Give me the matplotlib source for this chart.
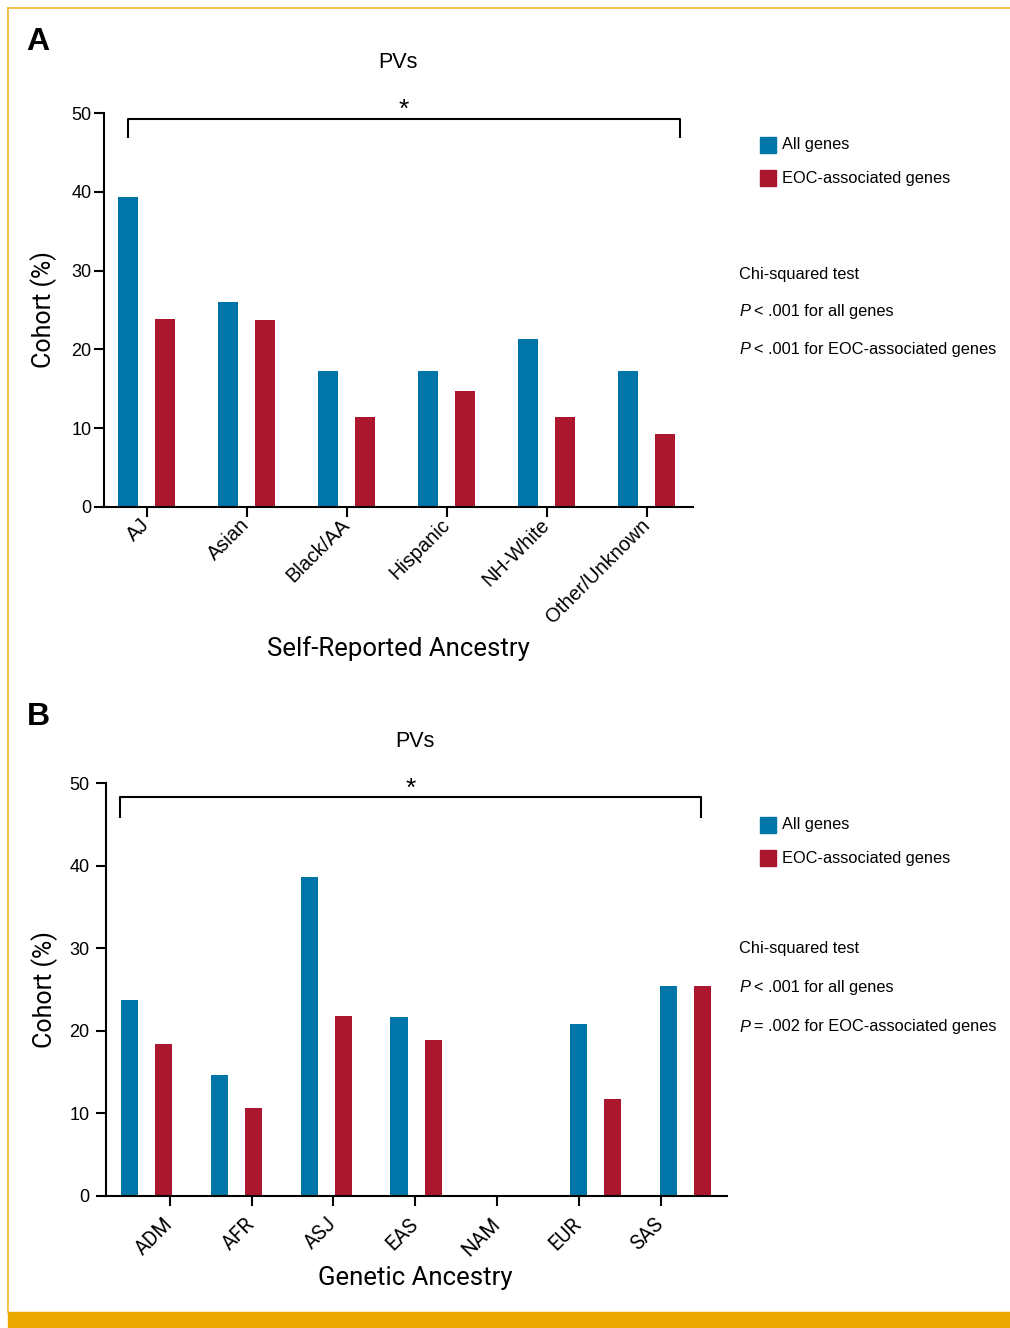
import numpy as np
import matplotlib
matplotlib.use("Agg")
import matplotlib.pyplot as plt
import matplotlib.transforms as mtransforms
from matplotlib.patches import Rectangle

# --- data ---
self_reported = ["AJ", "Asian", "Black/AA", "Hispanic", "NH-White", "Other/Unknown"]
sr_all_genes = [39.4, 26.0, 17.2, 17.2, 21.3, 17.2]
sr_eoc_genes = [23.9, 23.7, 11.4, 14.7, 11.4, 9.3]

genetic = ["ADM", "AFR", "ASJ", "EAS", "NAM", "EUR", "SAS"]
ga_all_genes = [23.8, 14.6, 38.6, 21.7, 0.0, 20.8, 25.5]
ga_eoc_genes = [18.4, 10.7, 21.8, 18.9, 0.0, 11.7, 25.5]

stats_a = ["< .001 for all genes", "< .001 for EOC-associated genes"]
stats_b = ["< .001 for all genes", "= .002 for EOC-associated genes"]

BLUE = "#0076A8"
RED = "#AB172F"
GOLD = "#EBA900"
SANS = ["Liberation Sans", "DejaVu Sans"]
NARROW = ["Roboto", "DejaVu Sans"]

W, H = 1010, 1328
plt.rcParams["font.family"] = SANS


def fx(px):
    return px / W


def fy(py):
    return 1 - py / H


fig = plt.figure(figsize=(W / 100, H / 100), dpi=100)

# journal frame
fig.add_artist(plt.Line2D([fx(8), fx(8)], [fy(8), fy(1312)], color="#F2B632", lw=1.2))
fig.add_artist(plt.Line2D([fx(8), 1], [fy(8), fy(8)], color="#F2B632", lw=1.2))
fig.add_artist(Rectangle((fx(8), 0), 1 - fx(8), 16 / H, color=GOLD, transform=fig.transFigure))


def style_axis(ax, ylabel_x):
    for s in ["top", "right"]:
        ax.spines[s].set_visible(False)
    for s in ["left", "bottom"]:
        ax.spines[s].set_linewidth(1.5)
    ax.set_ylim(0, 50)
    ax.set_yticks([0, 10, 20, 30, 40, 50])
    ax.tick_params(axis="both", direction="out", length=7, width=1.5)
    ax.tick_params(axis="y", labelsize=13)
    ax.set_ylabel("Cohort (%)", family=NARROW, fontsize=18)
    ax.yaxis.set_label_coords(ylabel_x, 0.5)


def shift_xlabels(ax, dx_px):
    off = mtransforms.ScaledTranslation(dx_px / 100, 0, fig.dpi_scale_trans)
    for lab in ax.get_xticklabels():
        lab.set_transform(lab.get_transform() + off)


def bracket(ax, x0, x1, ytop, ybot, star_x, star_y):
    ax.plot([x0, x0, x1, x1], [ybot, ytop, ytop, ybot], color="black", lw=1.5,
            clip_on=False, solid_capstyle="butt")
    ax.text(star_x, star_y, "*", ha="center", va="center", fontsize=19, clip_on=False)


def side_text(y_leg, y_chi, gap, stats):
    for yc, col, lab in zip([y_leg, y_leg + 33], [BLUE, RED], ["All genes", "EOC-associated genes"]):
        fig.add_artist(Rectangle((fx(760), fy(yc + 8)), 16 / W, 16 / H, color=col,
                                 transform=fig.transFigure))
        fig.text(fx(782), fy(yc), lab, fontsize=11.8, va="center")
    fig.text(fx(739), fy(y_chi), "Chi-squared test", fontsize=11.8, va="center")
    for i, s in enumerate(stats):
        yy = fy(y_chi + gap * (i + 1))
        fig.text(fx(739), yy, "P", fontsize=11.8, va="center", style="italic")
        fig.text(fx(753.5), yy, s, fontsize=11.8, va="center")


# ---------------- panel A ----------------
axA = fig.add_axes([fx(104), fy(506.7), (693 - 104) / W, (506.7 - 113.3) / H])
xa = np.arange(len(self_reported))
axA.bar(xa - 0.185, sr_all_genes, width=0.2, color=BLUE, linewidth=0)
axA.bar(xa + 0.185, sr_eoc_genes, width=0.2, color=RED, linewidth=0)
axA.set_xlim(-0.427, 5.46)
style_axis(axA, -0.079)
axA.set_xticks(xa)
axA.set_xticklabels(self_reported, rotation=45, ha="right", va="center",
                    rotation_mode="anchor", fontsize=14.3)
shift_xlabels(axA, 3)
axA.tick_params(axis="y", pad=2)
axA.tick_params(axis="x", pad=4)
axA.set_xlabel("Self-Reported Ancestry", family=NARROW, fontsize=18.5, va="center")
axA.xaxis.set_label_coords(0.499, -0.36)
bracket(axA, -0.184, 5.33, 49.3, 46.8, 2.57, 50.5)
fig.text(fx(398), fy(63), "PVs", fontsize=15.5, ha="center", va="center")
fig.text(fx(38), fy(42), "A", fontsize=23, weight="bold", ha="center", va="center")
side_text(145, 274, 37.5, stats_a)

# ---------------- panel B ----------------
axB = fig.add_axes([fx(106), fy(1196), (727 - 106) / W, (1196 - 783.3) / H])
xb = np.arange(len(genetic))
axB.bar(xb - 0.19, ga_all_genes, width=0.19, color=BLUE, linewidth=0)
axB.bar(xb + 0.19, ga_eoc_genes, width=0.19, color=RED, linewidth=0)
axB.set_xlim(-0.451, 6.46)
style_axis(axB, -0.077)
# tick marks in the original sit slightly off the bar groups
axB.set_xticks(0.26 + 0.91 * xb)
axB.set_xticklabels(genetic, rotation=45, ha="right", va="center",
                    rotation_mode="anchor", fontsize=14.5, family=NARROW)
shift_xlabels(axB, 7)
axB.tick_params(axis="y", pad=5)
axB.tick_params(axis="x", pad=11)
axB.set_xlabel("Genetic Ancestry", family=NARROW, fontsize=18.5, va="center")
axB.xaxis.set_label_coords(0.498, -0.199)
bracket(axB, -0.295, 6.17, 48.3, 45.8, 2.94, 49.3)
fig.text(fx(415), fy(741), "PVs", fontsize=15.5, ha="center", va="center")
fig.text(fx(38), fy(717), "B", fontsize=23, weight="bold", ha="center", va="center")
side_text(825, 948, 39.5, stats_b)

fig.savefig("out.png", dpi=100)
